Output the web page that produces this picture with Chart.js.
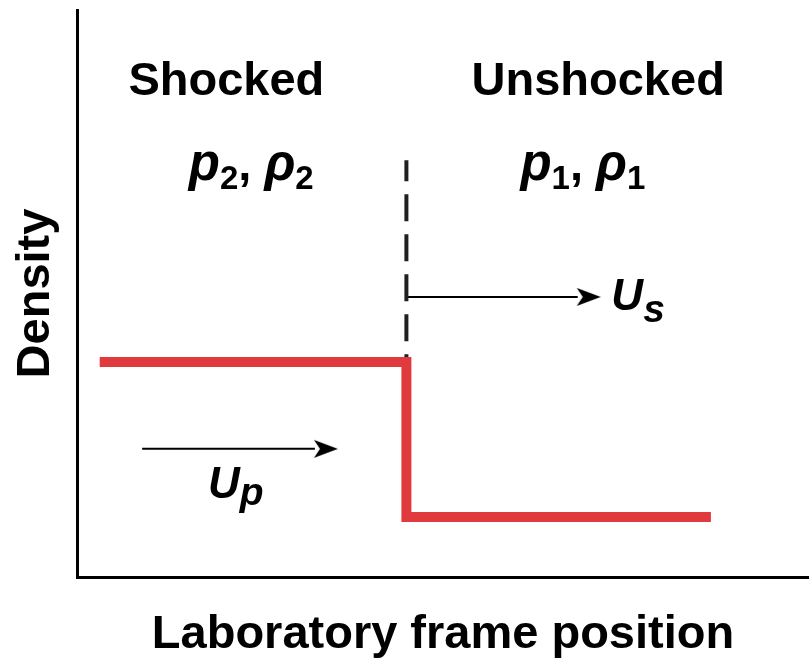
<!DOCTYPE html>
<html>
<head>
<meta charset="utf-8">
<script src="https://cdn.jsdelivr.net/npm/chart.js@4/dist/chart.umd.min.js"></script>
<style>
  html, body { margin: 0; padding: 0; background: #fff; }
  canvas { display: block; }
</style>
</head>
<body>
<canvas id="shockChart" width="809" height="660"></canvas>
<script>
// step profile of density across the shock front (arbitrary units)
const positions = [0.31, 4.5, 4.5, 8.66];
const densities = [3.79, 3.79, 1.06, 1.06];

// shock front marker (dashed)
const frontX = [4.5, 4.5];
const frontY = [7.35, 3.79];

// velocity arrows: shock speed Us and particle speed Up
const usX = [4.5, 6.84];
const usY = [4.94, 4.94];
const upX = [0.89, 3.25];
const upY = [2.26, 2.26];

const axisTitles = ['Laboratory frame position', 'Density'];

const FONT = '"Liberation Sans", Arial, Helvetica, sans-serif';
const big = 'bold 47px ' + FONT;
const bigIt = 'italic bold 51px ' + FONT;
const sub = 'bold 33px ' + FONT;
const velIt = 'italic bold 44px ' + FONT;
const velSub = 'italic bold 39px ' + FONT;

const labels = [
  { x: 2.04, y: 8.5, align: 'center', parts: [{ t: 'Shocked', f: big }] },
  { x: 7.12, y: 8.5, align: 'center', parts: [{ t: 'Unshocked', f: big }] },
  { x: 2.38, y: 7.0, align: 'center', parts: [
    { t: 'p', f: bigIt }, { t: '2', f: sub, dy: 9 }, { t: ', ', f: big },
    { t: 'ρ', f: bigIt }, { t: '2', f: sub, dy: 9 }] },
  { x: 6.91, y: 7.0, align: 'center', parts: [
    { t: 'p', f: bigIt }, { t: '1', f: sub, dy: 9 }, { t: ', ', f: big },
    { t: 'ρ', f: bigIt }, { t: '1', f: sub, dy: 9 }] },
  { x: 7.3, y: 4.71, align: 'left', parts: [{ t: 'U', f: velIt }, { t: 's', f: velSub, dy: 12 }] },
  { x: 1.79, y: 1.39, align: 'left', parts: [{ t: 'U', f: velIt }, { t: 'p', f: velSub, dy: 7 }] }
];

// arrow head image, tip at the right edge, centred on the data point
function makeArrow() {
  const c = document.createElement('canvas');
  c.width = 46; c.height = 22;
  const g = c.getContext('2d');
  g.fillStyle = '#000';
  g.beginPath();
  g.moveTo(46, 11);
  g.lineTo(22, 2);
  g.lineTo(28, 11);
  g.lineTo(22, 20);
  g.closePath();
  g.fill();
  return c;
}
const arrowHead = makeArrow();

function toXY(xs, ys) {
  return xs.map((v, i) => ({ x: v, y: ys[i] }));
}

function drawRich(ctx, parts, x, y, align) {
  ctx.save();
  ctx.fillStyle = '#000';
  ctx.textBaseline = 'alphabetic';
  ctx.textAlign = 'left';
  let total = 0;
  parts.forEach(p => { ctx.font = p.f; p.w = ctx.measureText(p.t).width; total += p.w; });
  let cx = align === 'center' ? x - total / 2 : x;
  parts.forEach(p => {
    ctx.font = p.f;
    ctx.fillText(p.t, cx, y + (p.dy || 0));
    cx += p.w;
  });
  ctx.restore();
}

const textPlugin = {
  id: 'textLabels',
  afterDatasetsDraw(chart) {
    const { ctx, scales: { x, y } } = chart;
    labels.forEach(l => drawRich(ctx, l.parts, x.getPixelForValue(l.x), y.getPixelForValue(l.y), l.align));
  }
};

const ctx = document.getElementById('shockChart').getContext('2d');

const shockChart = new Chart(ctx, {
  type: 'scatter',
  data: {
    datasets: [
      {
        label: 'density',
        data: toXY(positions, densities),
        showLine: true,
        borderColor: '#E03A3E',
        borderWidth: 10,
        borderJoinStyle: 'miter',
        borderCapStyle: 'butt',
        pointRadius: 0,
        tension: 0
      },
      {
        label: 'shock front',
        data: toXY(frontX, frontY),
        showLine: true,
        borderColor: '#231F20',
        borderWidth: 4,
        borderDash: [27, 13],
        borderDashOffset: 6,
        pointRadius: 0
      },
      {
        label: 'Us',
        data: toXY(usX, usY),
        showLine: true,
        borderColor: '#000',
        borderWidth: 2,
        pointRadius: [0, 5],
        pointStyle: arrowHead
      },
      {
        label: 'Up',
        data: toXY(upX, upY),
        showLine: true,
        borderColor: '#000',
        borderWidth: 2,
        pointRadius: [0, 5],
        pointStyle: arrowHead
      }
    ]
  },
  options: {
    responsive: false,
    animation: false,
    devicePixelRatio: 1,
    layout: { autoPadding: false, padding: { top: 10, left: 0, right: 0, bottom: 0 } },
    plugins: {
      legend: { display: false },
      tooltip: { enabled: false }
    },
    scales: {
      x: {
        type: 'linear',
        min: 0,
        max: 10,
        grid: { display: false, drawTicks: false },
        ticks: { display: false },
        border: { display: true, color: '#000', width: 3 },
        title: {
          display: true,
          text: axisTitles[0],
          color: '#000',
          font: { family: FONT, size: 47, weight: 'bold', lineHeight: 1 },
          padding: { top: 35, bottom: 1 }
        }
      },
      y: {
        type: 'linear',
        min: 0,
        max: 10,
        grid: { display: false, drawTicks: false },
        ticks: { display: false },
        border: { display: true, color: '#000', width: 3 },
        title: {
          display: true,
          text: axisTitles[1],
          color: '#000',
          font: { family: FONT, size: 47, weight: 'bold', lineHeight: 1 },
          padding: { top: 12.5, bottom: 17.5 }
        }
      }
    }
  },
  plugins: [textPlugin]
});
</script>
</body>
</html>
